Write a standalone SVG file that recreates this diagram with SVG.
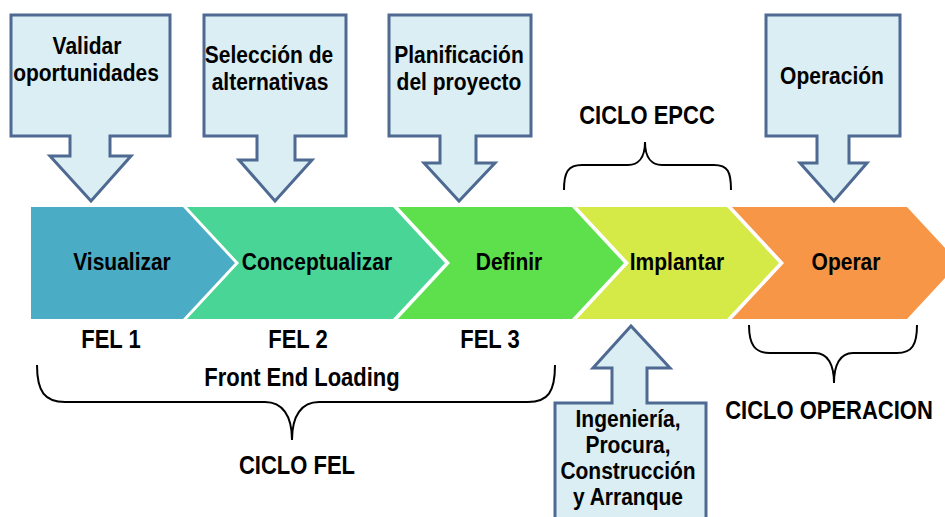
<svg xmlns="http://www.w3.org/2000/svg" width="945" height="517" viewBox="0 0 945 517">
<style>
text{font-family:"Liberation Sans",Arial,sans-serif;font-weight:bold;fill:#000;text-anchor:middle;transform-box:fill-box;transform-origin:center;transform:scaleY(1.15)}
.t21{font-size:21px}
.t22{font-size:22px}
.call{fill:#DAEEF3;stroke:#4F6A92;stroke-width:3;stroke-linejoin:miter}
.brace{fill:none;stroke:#000;stroke-width:2}
</style>
<rect width="945" height="517" fill="#fff"/>
<g id="chevrons">
<g id="visualizar"><path d="M31,207 L183,207 L235,263 L183,319 L31,319 Z" fill="#4BACC6"/><text class="t21" x="122" y="269">Visualizar</text></g>
<g id="conceptualizar"><path d="M187,207 L393,207 L445,263 L393,319 L187,319 L239,263 Z" fill="#48D595"/><text class="t21" x="317" y="269">Conceptualizar</text></g>
<g id="definir"><path d="M398,207 L572,207 L624,263 L572,319 L398,319 L450,263 Z" fill="#5DE04B"/><text class="t21" x="509" y="269">Definir</text></g>
<g id="implantar"><path d="M577,207 L727,207 L779,263 L727,319 L577,319 L629,263 Z" fill="#D5EA47"/><text class="t21" x="677" y="269">Implantar</text></g>
<g id="operar"><path d="M732,207 L907,207 L959,263 L907,319 L732,319 L784,263 Z" fill="#F79646"/><text class="t21" x="846" y="269">Operar</text></g>
</g>
<g id="callout-validar"><path class="call" d="M11,15 L170,15 L170,136 L110,136 L110,156 L131,156 L91,201 L50,156 L70,156 L70,136 L11,136 Z"/><text class="t21" x="87" y="53">Validar</text><text class="t21" x="86" y="80">oportunidades</text></g>
<g id="callout-seleccion"><path class="call" d="M204,15 L346,15 L346,136 L295,136 L295,160 L312,160 L275,201 L239,160 L257,160 L257,136 L204,136 Z"/><text class="t21" x="269" y="62">Selección de</text><text class="t21" x="270" y="89">alternativas</text></g>
<g id="callout-planificacion"><path class="call" d="M389,15 L531,15 L531,136 L476,136 L476,163 L495,163 L459,201 L424,163 L440,163 L440,136 L389,136 Z"/><text class="t21" x="459" y="62">Planificación</text><text class="t21" x="459" y="89">del proyecto</text></g>
<g id="callout-operacion"><path class="call" d="M766,15 L900,15 L900,136 L849,136 L849,163 L867,163 L834,201 L800,163 L817,163 L817,136 L766,136 Z"/><text class="t21" x="832" y="83">Operación</text></g>
<g id="callout-epcc"><path class="call" d="M555,522 L555,403 L612,403 L612,368 L593,368 L631,326 L670,368 L647,368 L647,403 L706,403 L706,522"/><text class="t21" x="628" y="426">Ingeniería,</text><text class="t21" x="628" y="452">Procura,</text><text class="t21" x="628" y="478">Construcción</text><text class="t21" x="628" y="504">y Arranque</text></g>
<g id="connectors">
<path class="brace" d="M564,190 C564,172 568,165 582,165 L628,165 C638,165 645,158 645,142 C645,158 652,165 662,165 L714,165 C728,165 731,172 731,190"/>
<path class="brace" d="M37,365 C37,392 45,402 65,402 L265,402 C282,402 292,415 292,440 C292,415 302,402 319,402 L528,402 C548,402 555,392 555,365"/>
<path class="brace" d="M749,325 C749,345 755,353 770,353 L815,353 C828,353 834,365 834,383 C834,365 840,353 853,353 L897,353 C912,353 917,345 917,325"/>
</g>
<g id="labels">
<text class="t22" x="647" y="123">CICLO EPCC</text>
<text class="t22" x="111" y="347">FEL 1</text>
<text class="t22" x="298" y="347">FEL 2</text>
<text class="t22" x="490" y="347">FEL 3</text>
<text class="t22" x="302" y="385">Front End Loading</text>
<text class="t22" x="297" y="473">CICLO FEL</text>
<text class="t22" x="829" y="418">CICLO OPERACION</text>
</g>
</svg>
